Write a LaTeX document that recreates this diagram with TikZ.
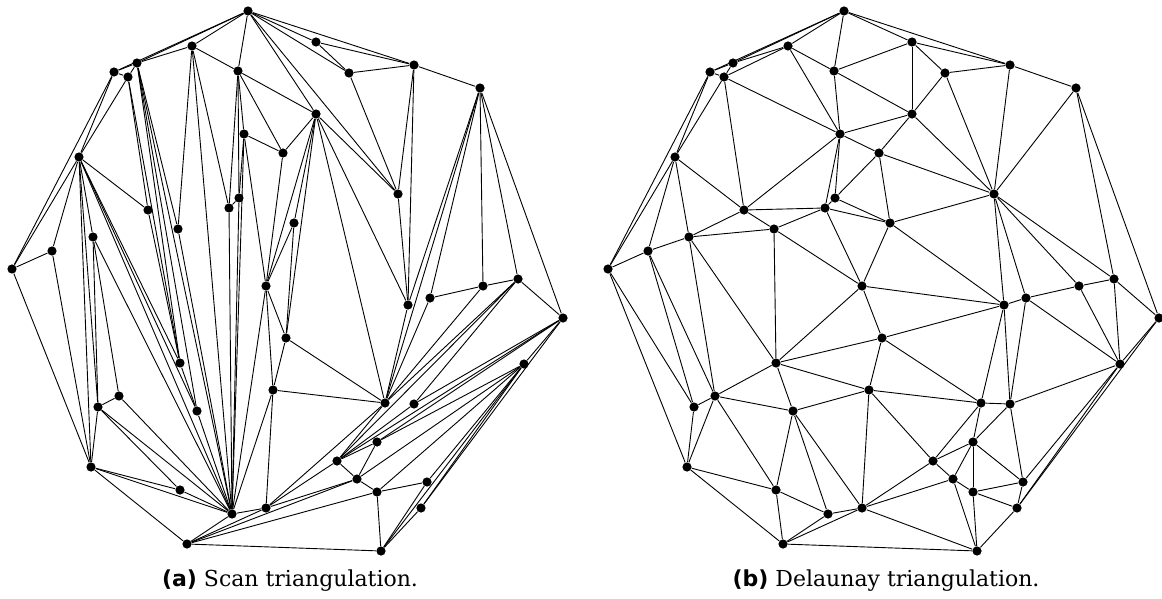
\documentclass[tikz,border=0pt]{standalone}
\usepackage{fontspec}
\setmainfont{DejaVu Serif}
\newfontfamily\tagfont{DejaVu Sans}
\tikzstyle{dot} = [circle, fill=black, inner sep=0pt, minimum size=4.6pt]
\tikzstyle{edge} = [line width=0.45pt]
\tikzstyle{caption} = [font=\fontsize{11}{13}\selectfont]
% point set (pixel grid of the left panel)
\newcommand{\pointlist}{1/248/11, 2/192/46, 3/137/63, 4/114/72, 5/128/77,
	6/238/71, 7/244/134, 8/283/153, 9/79/157, 10/239/198, 11/229/208,
	12/148/210, 13/178/229, 14/93/237, 15/52/251, 16/12/269, 17/316/42,
	18/349/73, 19/414/65, 20/480/88, 21/316/114, 22/398/194, 23/294/223,
	24/518/279, 25/266/286, 26/286/338, 27/180/363, 28/119/396, 29/98/407,
	30/197/411, 31/273/390, 32/91/467, 33/180/490, 34/232/514, 35/266/508,
	36/187/544, 37/408/305, 38/430/298, 39/483/286, 40/563/318, 41/524/364,
	42/385/403, 43/414/404, 44/377/442, 45/337/461, 46/357/479, 47/377/492,
	48/427/482, 49/421/508, 50/381/551}

\begin{document}
\begin{tikzpicture}[x=0.5pt, y=-0.5pt]
	\useasboundingbox (0,0) rectangle (1162,599);
	%Place nodes
	\foreach \n/\x/\y in \pointlist {
		\node [dot] (a\n) at (\x,\y) {};
		\node [dot] (b\n) at (\x+596,\y) {};
	}
	
	%Draw edges of the scan triangulation
	\foreach \u/\v in {1/4, 1/3, 1/2, 1/6, 1/21, 1/22, 1/18, 1/17, 1/19,
		3/4, 2/3, 2/6, 6/21, 21/22, 18/22, 17/18, 17/19, 18/19, 19/22,
		19/37, 19/20, 20/37, 22/37, 21/37,
		20/38, 20/39, 20/24, 20/40, 38/39, 24/39, 24/40,
		37/42, 20/42, 38/42, 39/42, 24/42, 21/42,
		42/45, 24/45, 24/43, 43/45, 40/43, 40/45,
		44/45, 40/44, 41/44, 44/46, 45/46, 40/41,
		41/46, 46/47, 41/47, 47/48, 41/48, 48/50, 47/50, 41/50, 49/50, 41/49, 40/49,
		36/46, 36/47, 36/50, 35/45, 35/46, 35/36, 34/35, 34/36, 35/42, 31/35, 31/42, 31/34,
		21/26, 26/42, 26/31, 25/26, 25/31, 25/34, 21/23, 23/26, 23/25, 21/25,
		8/21, 8/25, 7/25, 6/8, 7/8, 6/7, 7/34, 6/10, 7/10, 10/34, 6/11, 10/11,
		11/34, 2/11, 2/34, 2/13, 13/34, 3/13, 3/34,
		3/30, 30/34, 3/27, 27/30, 9/30, 9/34, 9/27, 3/5, 5/27, 5/12, 12/27,
		9/12, 5/9, 4/5, 4/9,
		4/16, 9/16, 15/16, 9/15, 15/32, 16/32, 9/32, 29/32, 9/29, 9/14, 14/29,
		14/28, 28/29, 14/34, 28/34, 29/34, 29/33, 33/34, 32/33, 32/34, 32/36}
		\draw [edge] (a\u) -- (a\v);
	
	%Draw edges of the Delaunay triangulation
	\foreach \u/\v in {1/2, 1/3, 1/4, 1/6, 1/17, 1/19, 2/3, 2/5, 2/6, 2/7,
		3/4, 3/5, 4/5, 4/9, 4/16, 5/7, 5/9, 5/12, 6/7, 6/17, 6/21,
		7/8, 7/10, 7/11, 7/12, 7/21, 8/10, 8/21, 8/22, 8/23,
		9/12, 9/14, 9/15, 9/16, 10/11, 10/23, 11/12, 11/13, 11/23, 11/25,
		12/13, 12/14, 13/14, 13/25, 13/27, 14/15, 14/27, 14/28,
		15/16, 15/28, 15/29, 16/29, 16/32, 17/18, 17/19, 17/21,
		18/19, 18/21, 18/22, 19/20, 19/22, 20/22, 20/24, 20/40, 21/22,
		22/23, 22/24, 22/37, 22/38, 22/39, 23/25, 23/37,
		24/39, 24/40, 24/41, 25/26, 25/27, 25/37,
		26/27, 26/31, 26/37, 26/42, 27/28, 27/30, 27/31,
		28/29, 28/30, 28/32, 28/33, 29/32, 30/31, 30/33, 30/34, 30/35,
		31/35, 31/42, 31/45, 32/33, 32/36, 33/34, 33/36, 34/35, 34/36,
		35/36, 35/45, 35/46, 35/50, 36/50, 37/38, 37/42, 37/43,
		38/39, 38/41, 38/43, 39/41, 40/41, 40/49, 41/43, 41/48, 41/49,
		42/43, 42/44, 42/45, 43/44, 43/48, 44/45, 44/46, 44/47, 44/48,
		45/46, 46/47, 46/50, 47/48, 47/49, 47/50, 48/49, 49/50}
		\draw [edge] (b\u) -- (b\v);
	
	%Captions
	\node [caption] (capa) at (290,581) {{\tagfont\bfseries (a)} Scan triangulation.};
	\node [caption] (capb) at (886,581) {{\tagfont\bfseries (b)} Delaunay triangulation.};
\end{tikzpicture}
\end{document}
